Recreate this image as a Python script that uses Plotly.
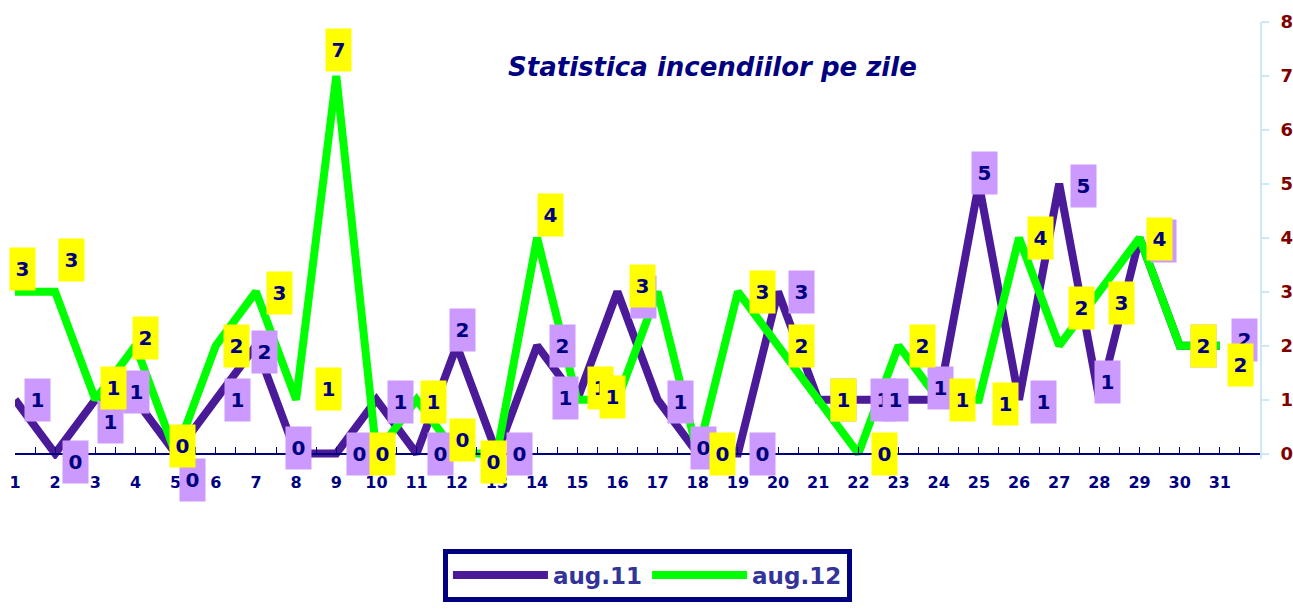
import plotly.graph_objects as go

# daily fire counts, August 2011 vs August 2012
days = list(range(1, 32))
aug11 = [1, 0, 1, 1, 0, 1, 2, 0, 0, 1, 0, 2, 0, 2, 1, 3, 1, 0, 0, 3, 1, 1, 1, 1, 5, 1, 5, 1, 4, 2, 2]
aug12 = [3, 3, 1, 2, 0, 2, 3, 1, 7, 0, 1, 0, 0, 4, 1, 1, 3, 0, 3, 2, 1, 0, 2, 1, 1, 4, 2, 3, 4, 2, 2]
y_ticks = list(range(0, 9))

# label box nudges (screen px, dy down positive) -- mimic excel placement
p_dx = [22, 20, 15, 1, 17, 22, 9, 2, 23, 24, 24, 6, 23, 25, -12, 26, 23, 6, 25, 23, 25, 25, -3, 2, 6, 24, 24, 8, 24, 24, 25]
p_dy = [0, 8, 22, -8, 26, 0, 6, -6, 0, 2, 0, -16, 0, 0, -2, 5, 2, -6, 0, 0, 0, 0, 0, -12, -11, 2, 2, -18, 3, 0, -6]
g_dx = [7, 16, 18, 10, 7, 21, 24, 32, 2, 6, 17, 6, -3, 13, 23, -5, -15, 25, 25, 23, 25, 26, 24, 24, 27, 21, 22, 22, 20, 24, 21]
g_dy = [-23, -32, -12, -8, -8, 0, 1, -11, -26, 0, 2, -14, 8, -23, -12, -3, -6, 0, 0, 0, 0, 0, 0, 0, 4, 0, -38, 11, 1, 0, 19]

PURPLE = "#4B1A99"
GREEN = "#00FF00"
NAVY = "#000080"

fig = go.Figure()
fig.add_trace(go.Scatter(x=days, y=aug11, mode="lines", name="aug.11",
                         line=dict(color=PURPLE, width=8)))
fig.add_trace(go.Scatter(x=days, y=aug12, mode="lines", name="aug.12",
                         line=dict(color=GREEN, width=8)))

annots = []
for vals, dx, dy, bg in [(aug11, p_dx, p_dy, "#CC99FF"), (aug12, g_dx, g_dy, "#FFFF00")]:
    for d, v, sx, sy in zip(days, vals, dx, dy):
        annots.append(dict(x=d, y=v, xref="x", yref="y", text=str(v), showarrow=False,
                           xshift=sx, yshift=-sy, width=23, height=40, bgcolor=bg,
                           font=dict(family="DejaVu Sans", size=20, color=NAVY, weight="bold")))

fig.update_layout(
    width=1293, height=609,
    margin=dict(l=15, r=33, t=22, b=150, autoexpand=False),
    plot_bgcolor="white", paper_bgcolor="white",
    title=dict(text="Statistica incendiilor pe zile", x=0.551, xanchor="center",
               y=1 - 67 / 609, yanchor="middle",
               font=dict(family="DejaVu Sans", size=26, color=NAVY, weight="bold", style="italic")),
    annotations=annots,
    showlegend=True,
    legend=dict(orientation="h", x=0.508, xanchor="center", y=-0.205, yanchor="top",
                bordercolor=NAVY, borderwidth=5, itemwidth=95,
                font=dict(family="DejaVu Sans", size=23, color="#333399", weight="bold")),
)

fig.update_xaxes(range=[1, 32], tickvals=days, ticktext=[str(d) for d in days],
                 anchor="free", position=0.1 / 8.1, automargin=False,
                 showgrid=False, zeroline=False,
                 showline=True, linecolor=NAVY, linewidth=2,
                 ticks="inside", ticklen=6, tickcolor=NAVY, tickwidth=1,
                 minor=dict(dtick=0.5, tick0=1, ticks="inside", ticklen=6, tickcolor=NAVY),
                 ticklabelstandoff=14,
                 tickfont=dict(family="DejaVu Sans", size=16, color=NAVY, weight="bold"))

fig.update_yaxes(range=[-0.1, 8], side="right", tickvals=y_ticks, automargin=False,
                 showgrid=False, zeroline=False,
                 showline=True, linecolor="#CCE6FA", linewidth=2,
                 ticks="outside", ticklen=7, tickcolor="#CCE6FA", tickwidth=2,
                 ticklabelstandoff=8,
                 tickfont=dict(family="DejaVu Sans", size=18, color="#800000", weight="bold"))

fig.write_html("out.html", config={"displayModeBar": False},
               post_script="document.body.style.margin='0';")
